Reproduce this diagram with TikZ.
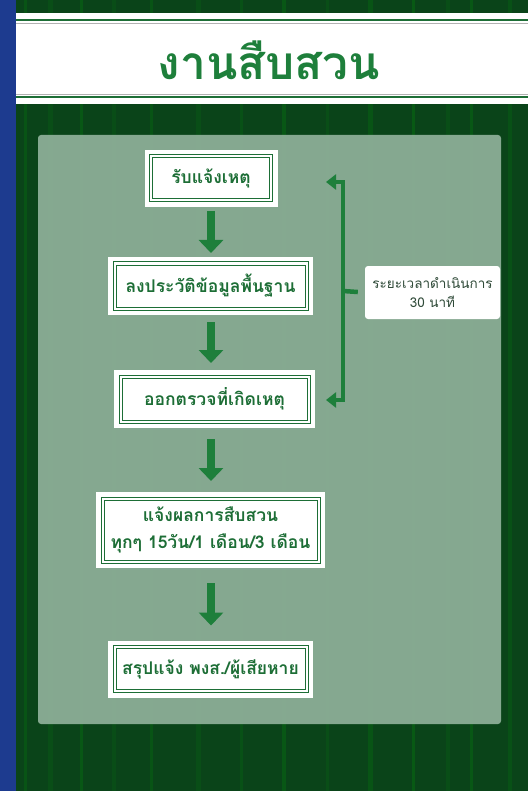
\documentclass[tikz,border=0pt]{standalone}
\usepackage{fontspec}
\setmainfont{Loma}[Script=Thai]
\usetikzlibrary{arrows.meta}
\definecolor{bggreen}{HTML}{0A4419}
\definecolor{panelgreen}{HTML}{8FB09A}
\definecolor{boxgreen}{HTML}{1D6E36}
\definecolor{arrowgreen}{HTML}{1E7F3B}
\definecolor{stripblue}{HTML}{1D3B8F}
\definecolor{labelgray}{HTML}{2F4A38}
\tikzset{
  stepbox/.style={preaction={draw=white, line width=13pt}, fill=white,
    draw=boxgreen, double=white, double distance=2pt, line width=1pt,
    text=boxgreen, font=\bfseries\fontsize{17.5}{27}\selectfont, align=center,
    inner sep=0pt},
  flowarrow/.style={arrowgreen, line width=8pt, -{Triangle[width=24pt,length=13pt]},
    shorten <=#1, shorten >=#1},
  bracketline/.style={arrowgreen, line width=4.5pt,
    {Triangle[width=15pt,length=10pt]}-{Triangle[width=15pt,length=10pt]}},
  timebox/.style={fill=white, rounded corners=3pt, text=labelgray,
    font=\fontsize{13.5}{19}\selectfont, align=center, inner sep=0pt,
    minimum width=135pt, minimum height=53pt}
}

\begin{document}
\begin{tikzpicture}[x=1pt, y=-1pt]
\useasboundingbox (0,0) rectangle (528,791);
\fill[bggreen] (0,0) rectangle (528,791);
\foreach \sx/\w/\op in {24/3/0.12, 48/5/0.08, 80/3/0.14, 112/4/0.07, 150/3/0.12, 196/5/0.08, 240/3/0.1, 282/4/0.14, 326/3/0.08, 368/5/0.12, 412/3/0.16, 446/4/0.08, 470/3/0.14, 508/4/0.1}
  \fill[green!80!black, opacity=\op] (\sx,0) rectangle (\sx+\w,791);
\fill[stripblue] (0,0) rectangle (16,791);
\fill[white] (16,13) rectangle (528,104);
\draw[boxgreen, line width=2pt] (16,20.5) -- (528,20.5);
\draw[gray!60, line width=1pt] (16,24) -- (528,24);
\draw[gray!60, line width=1pt] (16,94.5) -- (528,94.5);
\draw[boxgreen, line width=2pt] (16,97.5) -- (528,97.5);
\node[text=arrowgreen, font=\bfseries\fontsize{46}{50}\selectfont] (title) at (269,60) {งานสืบสวน};
\fill[panelgreen, opacity=0.93, rounded corners=3pt] (38,135) rectangle (501,724);

\node[stepbox, minimum width=120pt, minimum height=44pt] (b1) at (211,178.5) {รับแจ้งเหตุ};
\node[stepbox, minimum width=192pt, minimum height=45pt] (b2) at (210.5,286) {ลงประวัติข้อมูลพื้นฐาน};
\node[stepbox, minimum width=188pt, minimum height=45pt] (b3) at (214.5,399) {ออกตรวจที่เกิดเหตุ};
\node[stepbox, minimum width=216pt, minimum height=63pt] (b4) at (210.5,530) {แจ้งผลการสืบสวน\\ทุกๆ 15วัน/1 เดือน/3 เดือน};
\node[stepbox, minimum width=192pt, minimum height=44pt] (b5) at (210.5,669) {สรุปแจ้ง พงส./ผู้เสียหาย};
\node[timebox] (time) at (432.5,292.5) {ระยะเวลาดำเนินการ\\30 นาที};

\coordinate (ta) at (326,182);
\coordinate (tb) at (326,400);
\coordinate (spine) at (343,291);

\draw[flowarrow=10pt] (b1.south -| 211,0) -- (b2.north -| 211,0);
\draw[flowarrow=13pt] (b2.south -| 211,0) -- (b3.north -| 211,0);
\draw[flowarrow=17pt] (b3.south -| 211,0) -- (b4.north -| 211,0);
\draw[flowarrow=21pt] (b4.south -| 211,0) -- (b5.north -| 211,0);
\draw[bracketline] (ta) -- (ta -| spine) -- (tb -| spine) -- (tb);
\draw[arrowgreen, line width=4.5pt, shorten >=7pt] (spine) -- (time.west);
\end{tikzpicture}
\end{document}
